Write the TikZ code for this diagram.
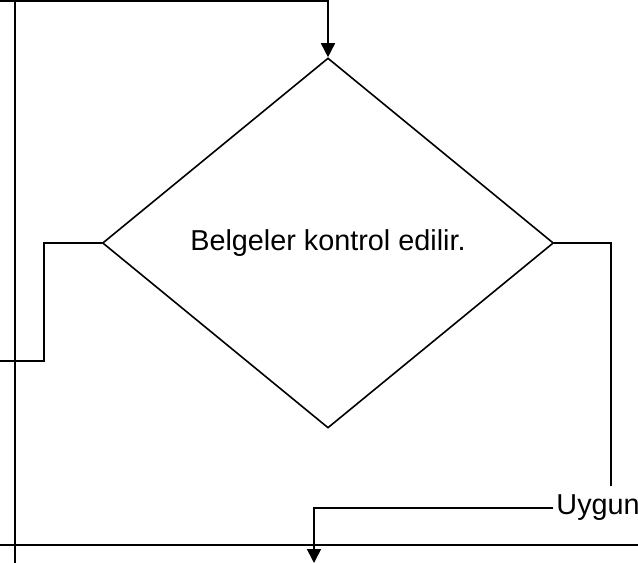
\documentclass[tikz,border=0pt]{standalone}
\usepackage{fontspec}
\setmainfont{Liberation Sans}
\usetikzlibrary{shapes.geometric, arrows.meta}

\begin{document}
\begin{tikzpicture}[x=0.75pt, y=-0.75pt, line width=1.2pt,
    flow/.style={-{Triangle[width=10.5pt, length=10.5pt]}},
    decision/.style={draw, diamond, inner sep=0pt, minimum width=338.25pt, minimum height=277.5pt, font=\fontsize{21.6}{26}\selectfont},
    tag/.style={inner xsep=2pt, inner ysep=6pt, anchor=west, font=\fontsize{21.6}{26}\selectfont}]
    \useasboundingbox (0, 0) rectangle (638, 563);

    \node[decision] at (328, 243) (chk) {Belgeler kontrol edilir.};
    \node[tag] at (553, 508) (ok) {Uygun};

    \coordinate (topL) at (0, 1);
    \coordinate (topR) at (328, 1);
    \coordinate (railT) at (15, 0);
    \coordinate (railB) at (15, 563);
    \coordinate (lbend) at (44, 243);
    \coordinate (lout) at (0, 361);
    \coordinate (rbend) at (611, 243);
    \coordinate (bot) at (314, 563);
    \coordinate (barL) at (0, 545);
    \coordinate (barR) at (638, 545);

    \draw[flow] (topL) -- (topR) -- (chk.north);
    \draw (railT) -- (railB);
    \draw (chk.west) -- (lbend) |- (lout);
    \draw (chk.east) -- (rbend) -- (rbend |- ok.north);
    \draw[flow] (ok.west) -| (bot);
    \draw (barL) -- (barR);
\end{tikzpicture}
\end{document}
